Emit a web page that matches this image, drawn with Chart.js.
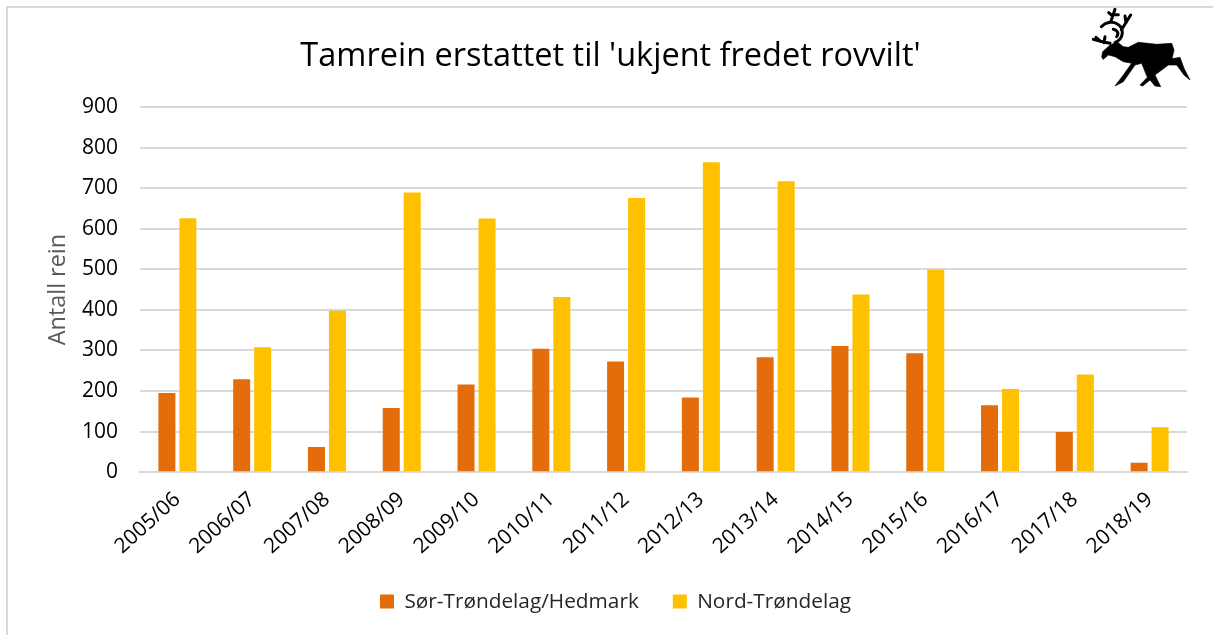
<!DOCTYPE html>
<html><head><meta charset="utf-8">
<style>html,body{margin:0;padding:0;background:#fff;overflow:hidden}
#w{position:relative;width:1213px;height:635px}
#frame{position:absolute;left:6px;top:6px;width:1300px;height:1000px;border:2px solid #d9d9d9;box-sizing:border-box}
canvas{position:absolute;left:0;top:0}
#deer{position:absolute;left:1060px;top:0}</style>
<script src="https://cdn.jsdelivr.net/npm/chart.js@4"></script>
</head><body><div id="w"><div id="frame"></div><canvas id="c" width="1213" height="635"></canvas>
<svg id="deer" width="153" height="120" viewBox="0 0 459 360"><g fill="#000" stroke="#000" stroke-linejoin="round" stroke-linecap="round">
<path stroke-width="2" d="M125 170 L128 155 L150 135 L172 126 L190 140 L205 142 L235 127 L290 133 L335 130 L342 150 L336 176 L360 172 L372 205 L390 240 L372 225 L350 195 L325 195 L285 225 L302 260 L285 258 L270 240 L248 258 L240 255 L262 232 L245 190 L225 195 L190 245 L165 258 L190 225 L215 190 L190 185 L165 170 L145 165 L130 178 Z"/>
<path fill="none" stroke-width="9" d="M165 128 C192 115 194 85 172 72 C155 62 135 68 124 80 M152 66 L165 28 M158 48 L146 38 M160 44 L175 44 M184 90 L212 45 M198 68 L195 48 M150 130 L130 126 L100 118 M122 124 L108 112 M132 128 L135 110 M170 110 C178 100 172 90 160 88"/></g></svg></div>
<script>
const categories=['2005/06','2006/07','2007/08','2008/09','2009/10','2010/11','2011/12','2012/13','2013/14','2014/15','2015/16','2016/17','2017/18','2018/19'];
const sorTrondelag=[195,229,62,158,216,304,273,184,283,311,293,165,99,23];
const nordTrondelag=[626,308,398,689,625,432,676,764,717,438,499,205,241,111];
const titleText="Tamrein erstattet til 'ukjent fredet rovvilt'";
const yTicks=[0,100,200,300,400,500,600,700,800,900];
const F='"Open Sans",sans-serif';
const shiftTitle={id:'shiftTitle',afterLayout(c){c.titleBlock.left-=10;}};
new Chart(document.getElementById('c'),{type:'bar',plugins:[shiftTitle],
data:{labels:categories,datasets:[
{label:'Sør-Trøndelag/Hedmark',data:sorTrondelag,backgroundColor:'#E46C0A'},
{label:'Nord-Trøndelag',data:nordTrondelag,backgroundColor:'#FFC000'}]},
options:{responsive:false,animation:false,
layout:{padding:{left:44,right:26,top:37,bottom:13}},
datasets:{bar:{categoryPercentage:.5615,barPercentage:.81}},
plugins:{
title:{display:true,text:titleText,color:'#000',font:{family:F,size:32.5,weight:'normal'},padding:{top:0,bottom:31}},
legend:{position:'bottom',labels:{boxWidth:14,boxHeight:14,color:'#262626',font:{family:F,size:20.8},padding:34}},
tooltip:{enabled:false}},
scales:{
x:{grid:{display:false},border:{color:'#d9d9d9',width:2},
ticks:{color:'#000',font:{family:F,size:21},maxRotation:42,minRotation:42,padding:7,autoSkip:false},
afterFit(s){s.height=85}},
y:{min:0,max:900,grid:{color:'#d9d9d9',lineWidth:2,drawTicks:false},border:{display:false},
afterBuildTicks(s){s.ticks=yTicks.map(v=>({value:v}))},
ticks:{color:'#000',font:{family:F,size:21},padding:22},
title:{display:true,text:'Antall rein',color:'#595959',font:{family:F,size:23.4,weight:'normal'},padding:0},
afterFit(s){s.width=96}}
}}});
</script></body></html>
